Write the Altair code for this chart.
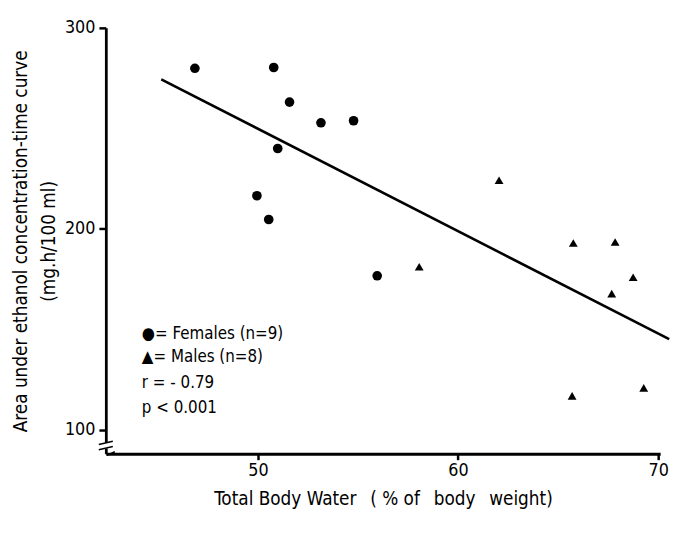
import altair as alt
import pandas as pd

# ---- data ----
fem_x = [46.85, 50.79, 51.58, 53.15, 54.78, 50.99, 49.95, 50.54, 55.96]
fem_y = [279.9, 280.3, 263.1, 252.8, 253.8, 240.0, 216.5, 204.7, 176.7]
male_x = [62.05, 58.06, 65.76, 67.85, 68.75, 67.68, 65.70, 69.28]
male_y = [224.2, 181.2, 193.0, 193.5, 176.0, 167.8, 117.0, 121.0]
fit_x = [45.17, 70.55]
fit_y = [274.4, 145.2]
x_ticks = [50, 60, 70]
y_ticks = [100, 200, 300]
legend_text = ["\u25cf= Females (n=9)", "\u25b2= Males (n=8)", "r = - 0.79", "p < 0.001"]
legend_y = [147.9, 136.1, 123.4, 111.1]
legend_x = [44.2, 44.2, 44.2, 44.2]
x_domain = [42.4, 70.1]
y_domain = [88.2, 300]

FONT = "Liberation Sans Narrow, DejaVu Sans Condensed, Liberation Sans, sans-serif"

fem = pd.DataFrame({"x": fem_x, "y": fem_y})
male = pd.DataFrame({"x": male_x, "y": male_y})
fit = pd.DataFrame({"x": fit_x, "y": fit_y})
leg = pd.DataFrame({"x": legend_x, "y": legend_y, "t": legend_text})

xs = alt.Scale(domain=x_domain, nice=False, zero=False)
ys = alt.Scale(domain=y_domain, nice=False, zero=False)

xax = alt.Axis(values=x_ticks, title="Total Body Water \u2002( % of \u2002body \u2002weight)",
               grid=False, domainColor="black", domainWidth=2.8, tickColor="black",
               tickWidth=2.5, tickSize=6, labelFontSize=18, labelFont=FONT,
               labelColor="black", titleFont=FONT, titleFontSize=19,
               titleFontWeight="normal", titleColor="black", labelPadding=2,
               titlePadding=10, labelFlush=False)
yax = alt.Axis(values=y_ticks, title=["Area under ethanol concentration-time curve", "(mg.h/100 ml)"],
               grid=False, domainColor="black", domainWidth=2.8, tickColor="black",
               tickWidth=2.5, tickSize=7, labelFontSize=18, labelFont=FONT,
               labelColor="black", titleFont=FONT, titleFontSize=19,
               titleFontWeight="normal", titleColor="black", labelPadding=4,
               titlePadding=6, titleLineHeight=28, labelFlush=False)

base_x = alt.X("x:Q", scale=xs, axis=xax)
base_y = alt.Y("y:Q", scale=ys, axis=yax)

line = alt.Chart(fit).mark_line(color="black", strokeWidth=2.6).encode(x=base_x, y=base_y)
circles = alt.Chart(fem).mark_point(shape="circle", filled=True, color="black", size=95,
                                     opacity=1).encode(x="x:Q", y="y:Q")
tris = alt.Chart(male).mark_point(shape="triangle-up", filled=True, color="black", size=80,
                                   opacity=1).encode(x="x:Q", y="y:Q")
legend = alt.Chart(leg).mark_text(align="left", baseline="middle", font=FONT, fontSize=17,
                                  color="black").encode(x="x:Q", y="y:Q", text="t:N")

# axis-break decorations
brk_gap = pd.DataFrame({"x": [42.2], "x2": [42.6], "y": [90.8], "y2": [93.6]})
gap = alt.Chart(brk_gap).mark_rect(color="white").encode(x="x:Q", x2="x2:Q", y="y:Q", y2="y2:Q")
brk = pd.DataFrame({"x": [42.05, 42.05, 42.45], "x2": [42.75, 42.75, 42.85],
                    "y": [90.2, 92.8, 87.4], "y2": [91.8, 94.4, 89.2]})
slashes = alt.Chart(brk).mark_rule(color="black", strokeWidth=1.6).encode(
    x="x:Q", x2="x2:Q", y="y:Q", y2="y2:Q")

chart = alt.layer(line, circles, tris, legend, gap, slashes).properties(
    width=561, height=431,
    autosize=alt.AutoSizeParams(type="none"),
    padding={"left": 99, "top": 17, "right": 13, "bottom": 70},
    background="white",
).configure_view(stroke=None)

chart.save("out.html", embed_options={"renderer": "svg", "actions": False})
